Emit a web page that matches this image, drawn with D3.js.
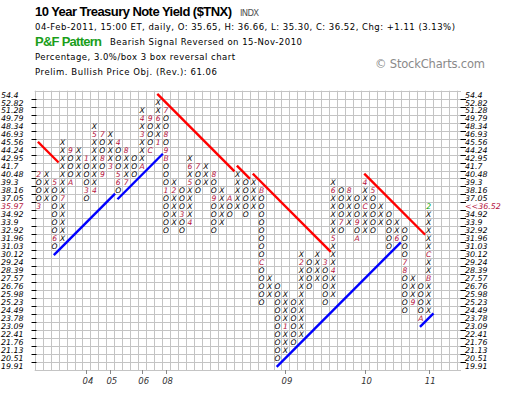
<!DOCTYPE html>
<html lang="en">
<head>
<meta charset="UTF-8">
<title>$TNX Point &amp; Figure</title>
<style>
  body { margin: 0; background: #fff; }
  svg { display: block; }
  text { font-family: "DejaVu Sans", Verdana, sans-serif; }
</style>
</head>
<body>
<svg width="520" height="394"></svg>
<script src="https://cdn.jsdelivr.net/npm/d3@7.8.5/dist/d3.min.js"></script>
<script>
// box levels, top to bottom (3% boxes)
const boxLevels = [54.4, 52.82, 51.28, 49.79, 48.34, 46.93, 45.56, 44.24, 42.95, 41.7,
  40.48, 39.3, 38.16, 37.05, 35.97, 34.92, 33.9, 32.92, 31.96, 31.03,
  30.12, 29.24, 28.39, 27.57, 26.76, 25.98, 25.23, 24.49, 23.78, 23.09,
  22.41, 21.76, 21.13, 20.51, 19.91]

// one entry per column: top box, then the boxes downwards
// X / O, or the month code (1-9, A, B, C) where a month began
const columns = [
  [40.48, '2OOO3'], [40.48, 'XXXX'], [39.3, '5OOOOOO6O'], [45.56, 'XXXXXXX7XXXXX'],
  [44.24, '9OOOA'], [44.24, 'XXXX'], [42.95, '1OOO3O'], [48.34, 'X5XXXXXX4'],
  [46.93, '7OO8O9'], [46.93, 'XXXX3'], [45.56, '4OOO56O'], [44.24, '8XXX7'],
  [42.95, 'OOO'], [51.28, 'X4X3XXXA'], [49.79, '9OOOC'], [52.82, 'XX6XX1'],
  [51.28, '7OO8O9BOOO1OOOOO'], [39.3, 'X2XXXX'], [38.16, 'OOO3OO'], [42.95, 'X6X5XXXX4'],
  [41.7, '7OOO'], [41.7, 'XXX'], [40.48, '8OO9OOOO'], [38.16, 'XXXXX'],
  [37.05, 'AOO'], [40.48, 'XXXXX'], [39.3, 'OOOOO'], [39.3, 'XXXX'],
  [38.16, 'BOOOOOOOOCOOOOO'], [27.57, 'XXX'], [26.76, 'OOOOOOOOOO'], [25.98, 'XXXX1XXX'],
  [25.23, 'OOOOOO'], [30.12, 'X2XXXXXXXXX'], [29.24, 'OOOO'], [30.12, 'XXXX'],
  [29.24, '3OOOOO'], [39.3, 'X6XXXXX5XXX4XXX'], [38.16, 'OOOO7O'], [38.16, '8XXXX'],
  [37.05, 'OOO9OA'], [39.3, '4XXCXXX'], [38.16, '5OOOOO'], [35.97, 'XXX'],
  [34.92, 'OOOOO'], [33.9, 'XX6'], [32.92, 'OOOO78OOOOO'], [27.57, 'XXX9'],
  [26.76, 'OOOOA'], [35.97, '2XXXXXCXXBXXXX']
]

const lastPrice = 36.52
const lastLevel = 35.97

// year markers: label, column
const yearTicks = [['04', 6], ['05', 9], ['06', 13], ['08', 16], ['09', 31], ['10', 41], ['11', 49]]

// trend lines in box units: [col0, row0, col1, row1]
const resistance = [[0.4, 6.4, 3.0, 9.0], [15.4, 0.4, 25.1, 10.1], [25.4, 9.4, 27.05, 11.05],
  [27.4, 10.4, 37.2, 20.2], [41.4, 10.4, 49.05, 18.05]]
const support = [[2.4, 20.6, 10.1, 12.9], [10.4, 13.6, 16.1, 7.9], [30.4, 34.6, 46.0, 19.0],
  [48.4, 29.6, 50.1, 27.9]]

const svg = d3.select('svg')
const gridLeft = 34.7, gridTop = 90.7, cellW = 7.96, cellH = 7.98
const gridCols = 53
const gridRight = 461
const gridBottom = gridTop + boxLevels.length * cellH

const col = d3.scaleLinear().domain([0, 1]).range([gridLeft, gridLeft + cellW])
const row = d3.scaleLinear().domain([0, 1]).range([gridTop, gridTop + cellH])
const y = d3.scaleBand().domain(boxLevels).range([gridTop, gridBottom])

svg.append('rect').attr('width', 520).attr('height', 394).attr('fill', '#fff')

// header
const head = svg.append('g')
function line(t, x0, y0, len, size, opts = {}) {
  const el = head.append('text').attr('x', x0).attr('y', y0).text(t)
    .attr('font-size', size).attr('fill', opts.fill || '#000')
    .attr('textLength', len).attr('lengthAdjust', 'spacing')
  if (opts.bold) el.attr('font-weight', 'bold').style('font-family', '"Liberation Sans", Arial, sans-serif')
  return el
}
line('10 Year Treasury Note Yield ($TNX)', 35, 16, 197, 13, { bold: true })
line('INDX', 240, 16, 19, 8.5, { fill: '#555' })
line('04-Feb-2011, 15:00 ET, daily, O: 35.65, H: 36.66, L: 35.30, C: 36.52, Chg: +1.11 (3.13%)', 35, 30, 420, 8.5)
line('P&F Pattern', 35, 46, 67, 13, { bold: true, fill: '#1a9e1a' })
line('Bearish Signal Reversed on 15-Nov-2010', 110, 45, 192, 8.5)
line('Percentage, 3.0%/box 3 box reversal chart', 35, 60, 200, 8.5)
line('Prelim. Bullish Price Obj. (Rev.): 61.06', 35, 75, 182, 8.5)
line('\u00a9 StockCharts.com', 375, 68, 110, 11.5, { fill: '#8a8a8a' })

// grid
const grid = svg.append('g').attr('stroke', '#c4c4c4').attr('stroke-width', 1)
grid.selectAll('line.h').data(d3.range(boxLevels.length + 1)).join('line')
  .attr('class', 'h')
  .attr('x1', gridLeft).attr('x2', gridRight)
  .attr('y1', d => Math.round(row(d)) + 0.5).attr('y2', d => Math.round(row(d)) + 0.5)
grid.selectAll('line.v').data(d3.range(gridCols + 1)).join('line')
  .attr('class', 'v')
  .attr('y1', gridTop).attr('y2', gridBottom)
  .attr('x1', d => Math.round(col(d)) + 0.5).attr('x2', d => Math.round(col(d)) + 0.5)

// price axes
const axisG = svg.append('g').attr('font-size', 7.9).attr('font-style', 'italic')
const tickRows = d3.range(1, boxLevels.length)
axisG.selectAll('line.lt').data(tickRows).join('line')
  .attr('x1', 31.5).attr('x2', 36.5)
  .attr('y1', d => Math.round(row(d)) + 0.5).attr('y2', d => Math.round(row(d)) + 0.5)
  .attr('stroke', '#000')
axisG.selectAll('line.rt').data(tickRows).join('line')
  .attr('x1', 460.5).attr('x2', 466)
  .attr('y1', d => Math.round(row(d)) + 0.5).attr('y2', d => Math.round(row(d)) + 0.5)
  .attr('stroke', '#000')
axisG.selectAll('text.ll').data(boxLevels).join('text')
  .attr('x', 1).attr('y', d => y(d) + y.bandwidth() / 2).attr('dy', '0.36em')
  .attr('fill', d => d === lastLevel ? '#b4123c' : '#000')
  .text(d => d)
axisG.selectAll('text.rl').data(boxLevels).join('text')
  .attr('x', 465).attr('y', d => y(d) + y.bandwidth() / 2).attr('dy', '0.36em')
  .attr('fill', d => d === lastLevel ? '#b4123c' : '#000')
  .text(d => d === lastLevel ? '<<' + lastPrice : d)

// year axis
const yearG = svg.append('g')
yearG.selectAll('line').data(yearTicks).join('line')
  .attr('x1', d => Math.round(col(d[1] + 0.5)) + 0.5).attr('x2', d => Math.round(col(d[1] + 0.5)) + 0.5)
  .attr('y1', gridBottom).attr('y2', gridBottom + 4)
  .attr('stroke', '#888')
yearG.selectAll('text').data(yearTicks).join('text')
  .attr('x', d => col(d[1] + 0.5) + 1.5).attr('y', 384)
  .attr('text-anchor', 'middle').attr('font-size', 8.5).attr('font-style', 'italic')
  .attr('fill', '#333')
  .text(d => d[0])

// boxes
const boxes = []
columns.forEach(([topLevel, s], i) => {
  const start = boxLevels.indexOf(topLevel)
  s.split('').forEach((ch, j) => boxes.push({ c: i, level: boxLevels[start + j], ch, last: i === columns.length - 1 && j === 0 }))
})
svg.append('g').attr('font-size', 7.6).attr('font-style', 'italic').attr('text-anchor', 'middle')
  .selectAll('text').data(boxes).join('text')
  .attr('x', d => col(d.c + 0.5))
  .attr('y', d => y(d.level) + y.bandwidth() / 2).attr('dy', '0.36em')
  .attr('fill', d => d.last ? '#00a000' : (d.ch === 'X' || d.ch === 'O') ? '#000' : '#b4123c')
  .text(d => d.ch)

// trend lines
const trend = svg.append('g').attr('stroke-width', 2.4).attr('stroke-linecap', 'butt')
trend.selectAll('line.r').data(resistance).join('line')
  .attr('stroke', '#ff0000')
  .attr('x1', d => col(d[0])).attr('y1', d => row(d[1]))
  .attr('x2', d => col(d[2])).attr('y2', d => row(d[3]))
trend.selectAll('line.s').data(support).join('line')
  .attr('stroke', '#0000ff')
  .attr('x1', d => col(d[0])).attr('y1', d => row(d[1]))
  .attr('x2', d => col(d[2])).attr('y2', d => row(d[3]))
</script>
</body>
</html>
